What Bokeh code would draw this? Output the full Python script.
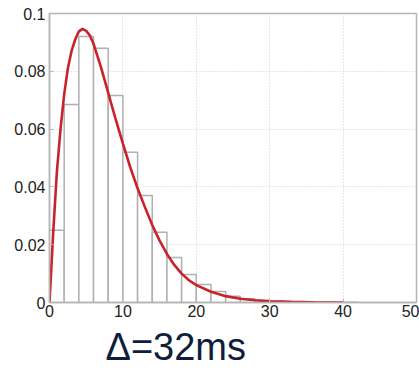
from bokeh.plotting import figure
from bokeh.models import Range1d, FixedTicker, NumeralTickFormatter, Title, ColumnDataSource
from bokeh.embed import file_html
from bokeh.resources import INLINE

# histogram (bin width 2)
bin_left = [0, 2, 4, 6, 8, 10, 12, 14, 16, 18, 20, 22, 24, 26, 28, 30, 32, 34, 36, 38, 40]
bin_height = [0.025, 0.0685, 0.092, 0.088, 0.0716, 0.052, 0.037, 0.0243, 0.0156, 0.0097,
              0.0062, 0.0038, 0.0022, 0.0013, 0.0008, 0.0005, 0.0003, 0.0002, 0.0001, 0.0001, 0.0001]
bin_width = 2

# fitted density curve
curve_x = [0, 0.5, 1, 1.5, 2, 2.5, 3, 3.5, 4, 4.5, 5, 5.5, 6, 7, 8, 9, 10, 11, 12, 13, 14,
           15, 16, 17, 18, 19, 20, 22, 24, 26, 28, 30, 33, 36, 40]
curve_y = [0, 0.024, 0.045, 0.060, 0.072, 0.081, 0.087, 0.091, 0.0938, 0.0947, 0.0940, 0.0924,
           0.0895, 0.0815, 0.0725, 0.0635, 0.0550, 0.0468, 0.0395, 0.0330, 0.0268, 0.0214,
           0.0168, 0.0130, 0.0100, 0.0077, 0.0060, 0.0037, 0.0022, 0.0013, 0.0008, 0.0004,
           0.0002, 0.0001, 0]

x_ticks = [0, 10, 20, 30, 40, 50]
y_ticks = [0, 0.02, 0.04, 0.06, 0.08, 0.1]
caption = "Δ=32ms"

p = figure(width=419, height=372, output_backend="svg", toolbar_location=None,
           x_range=Range1d(0, 50), y_range=Range1d(0, 0.1),
           min_border_left=49, min_border_right=3, min_border_top=13, min_border_bottom=70)
p.background_fill_color = "white"
p.border_fill_color = "white"
p.outline_line_color = "#b5b5b5"
p.outline_line_width = 1.5

src = ColumnDataSource(dict(left=bin_left,
                            right=[b + bin_width for b in bin_left],
                            top=bin_height,
                            bottom=[0] * len(bin_left)))
p.quad(left="left", right="right", top="top", bottom="bottom", source=src,
       fill_color="white", line_color="#b0b0b0", line_width=1.5)
p.line(curve_x, curve_y, line_color="#c8232b", line_width=2.6)

for ax in (p.xaxis[0], p.yaxis[0]):
    ax.axis_line_color = "#b5b5b5"
    ax.axis_line_width = 1.5
    ax.major_tick_in = 4
    ax.major_tick_out = 0
    ax.major_tick_line_color = "#b5b5b5"
    ax.minor_tick_line_color = None
    ax.major_label_text_font = "Liberation Sans"
    ax.major_label_text_font_size = "16px"
    ax.major_label_text_color = "#222222"
p.xaxis.ticker = FixedTicker(ticks=x_ticks)
p.yaxis.ticker = FixedTicker(ticks=y_ticks)
p.yaxis.formatter = NumeralTickFormatter(format="0.[00]")
p.xaxis.major_label_standoff = 2
p.yaxis.major_label_standoff = 4

p.xgrid.ticker = FixedTicker(ticks=x_ticks)
p.ygrid.ticker = FixedTicker(ticks=y_ticks)
p.grid.grid_line_color = "#cfcfcf"
p.grid.grid_line_dash = "1 2"
p.grid.grid_line_width = 1

cap = Title(text=caption, align="left", offset=56, standoff=8,
            text_font="Liberation Sans", text_font_size="38px", text_font_style="normal",
            text_color="#0e1e3c")
p.add_layout(cap, "below")

open("out.html", "w").write(file_html(p, INLINE))
